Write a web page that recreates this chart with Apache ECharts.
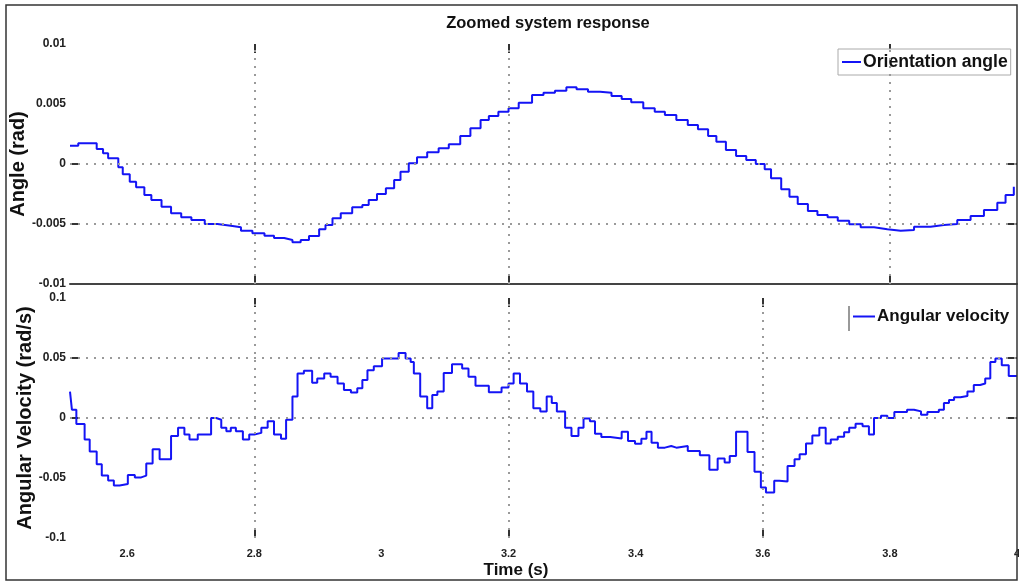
<!DOCTYPE html>
<html>
<head>
<meta charset="utf-8">
<script src="https://cdn.jsdelivr.net/npm/echarts@6/dist/echarts.min.js"></script>
<style>
  html, body { margin: 0; padding: 0; background: #ffffff; }
  #chart { width: 1019px; height: 582px; }
</style>
</head>
<body>
<div id="chart"></div>
<script>
// Orientation angle (rad) sampled over time (s)
const angleTime = [
  2.510, 2.523, 2.539, 2.552, 2.562, 2.570, 2.586, 2.593, 2.604, 2.614,
  2.627, 2.638, 2.654, 2.669, 2.685, 2.701, 2.722, 2.742, 2.763, 2.779,
  2.797, 2.816, 2.831, 2.847, 2.860, 2.873, 2.886, 2.902, 2.912, 2.923,
  2.936, 2.954, 2.970, 2.980, 2.993, 3.007, 3.020, 3.030, 3.043, 3.056,
  3.072, 3.090, 3.106, 3.124, 3.140, 3.156, 3.169, 3.184, 3.200, 3.216,
  3.237, 3.255, 3.273, 3.291, 3.307, 3.325, 3.344, 3.362, 3.378, 3.393,
  3.412, 3.430, 3.446, 3.464, 3.482, 3.498, 3.514, 3.527, 3.542, 3.558,
  3.574, 3.589, 3.603, 3.613, 3.629, 3.642, 3.655, 3.671, 3.686, 3.702,
  3.718, 3.736, 3.754, 3.775, 3.796, 3.817, 3.838, 3.864, 3.885, 3.906,
  3.927, 3.948, 3.969, 3.982, 3.995
];
const angleValues = [
  0.00153, 0.00172, 0.00172, 0.00125, 0.00090, 0.00047, -0.00028, -0.00086, -0.00147, -0.00194,
  -0.00258, -0.00300, -0.00356, -0.00411, -0.00444, -0.00467, -0.00500, -0.00514, -0.00528, -0.00556,
  -0.00578, -0.00597, -0.00617, -0.00633, -0.00653, -0.00633, -0.00600, -0.00544, -0.00508, -0.00453,
  -0.00411, -0.00361, -0.00342, -0.00300, -0.00250, -0.00203, -0.00133, -0.00064, 0.00006, 0.00056,
  0.00097, 0.00131, 0.00164, 0.00233, 0.00297, 0.00367, 0.00400, 0.00436, 0.00464, 0.00511,
  0.00575, 0.00594, 0.00611, 0.00639, 0.00622, 0.00603, 0.00594, 0.00567, 0.00542, 0.00514,
  0.00464, 0.00436, 0.00408, 0.00367, 0.00325, 0.00289, 0.00233, 0.00186, 0.00117, 0.00067,
  0.00033, 0.00000, -0.00044, -0.00119, -0.00211, -0.00272, -0.00333, -0.00392, -0.00425, -0.00444,
  -0.00472, -0.00503, -0.00528, -0.00544, -0.00556, -0.00550, -0.00522, -0.00508, -0.00500, -0.00467,
  -0.00433, -0.00383, -0.00322, -0.00258, -0.00189
];

// Angular velocity (rad/s), held constant from each time until the next
const velocityTime = [
  2.510, 2.513, 2.520, 2.533, 2.541, 2.552, 2.560, 2.570, 2.579, 2.588,
  2.601, 2.612, 2.622, 2.630, 2.640, 2.651, 2.669, 2.680, 2.690, 2.698,
  2.711, 2.732, 2.740, 2.748, 2.756, 2.763, 2.771, 2.782, 2.792, 2.800,
  2.811, 2.821, 2.831, 2.842, 2.850, 2.860, 2.868, 2.878, 2.891, 2.899,
  2.910, 2.920, 2.931, 2.941, 2.952, 2.962, 2.970, 2.978, 2.988, 3.001,
  3.027, 3.038, 3.046, 3.051, 3.061, 3.072, 3.080, 3.088, 3.098, 3.111,
  3.127, 3.137, 3.148, 3.169, 3.189, 3.200, 3.208, 3.218, 3.229, 3.239,
  3.250, 3.260, 3.268, 3.276, 3.289, 3.299, 3.310, 3.318, 3.328, 3.336,
  3.346, 3.360, 3.378, 3.388, 3.399, 3.409, 3.417, 3.425, 3.435, 3.446,
  3.456, 3.464, 3.482, 3.501, 3.516, 3.529, 3.540, 3.548, 3.558, 3.576,
  3.587, 3.597, 3.605, 3.618, 3.626, 3.639, 3.650, 3.658, 3.668, 3.678,
  3.689, 3.699, 3.707, 3.718, 3.728, 3.736, 3.746, 3.757, 3.767, 3.775,
  3.786, 3.796, 3.807, 3.827, 3.838, 3.849, 3.859, 3.877, 3.885, 3.893,
  3.901, 3.911, 3.922, 3.932, 3.942, 3.950, 3.958, 3.966, 3.976, 3.987,
  4.000
];
const velocityValues = [
  0.0220, 0.0069, -0.0049, -0.0179, -0.0280, -0.0385, -0.0480, -0.0520, -0.0563, -0.0550,
  -0.0475, -0.0495, -0.0480, -0.0379, -0.0261, -0.0343, -0.0151, -0.0082, -0.0137, -0.0179,
  -0.0137, 0.0000, -0.0014, -0.0082, -0.0110, -0.0082, -0.0110, -0.0179, -0.0137, -0.0124,
  -0.0082, -0.0027, -0.0137, -0.0173, -0.0014, 0.0179, 0.0371, 0.0393, 0.0294, 0.0330,
  0.0371, 0.0343, 0.0288, 0.0234, 0.0212, 0.0247, 0.0316, 0.0398, 0.0431, 0.0495,
  0.0541, 0.0495, 0.0467, 0.0371, 0.0179, 0.0082, 0.0192, 0.0220, 0.0376, 0.0448,
  0.0412, 0.0343, 0.0269, 0.0214, 0.0255, 0.0288, 0.0371, 0.0288, 0.0220, 0.0082,
  0.0055, 0.0179, 0.0124, 0.0055, -0.0082, -0.0151, -0.0082, -0.0005, -0.0027, -0.0132,
  -0.0159, -0.0170, -0.0115, -0.0192, -0.0214, -0.0173, -0.0115, -0.0206, -0.0247, -0.0234,
  -0.0247, -0.0234, -0.0275, -0.0310, -0.0431, -0.0338, -0.0371, -0.0316, -0.0115, -0.0283,
  -0.0448, -0.0580, -0.0620, -0.0522, -0.0530, -0.0400, -0.0343, -0.0302, -0.0212, -0.0146,
  -0.0082, -0.0212, -0.0179, -0.0157, -0.0118, -0.0082, -0.0047, -0.0069, -0.0137, 0.0000,
  0.0019, 0.0000, 0.0049, 0.0069, 0.0055, 0.0027, 0.0049, 0.0069, 0.0124, 0.0151,
  0.0173, 0.0184, 0.0220, 0.0275, 0.0288, 0.0330, 0.0467, 0.0495, 0.0440, 0.0349,
  0.0349
];

// Axis settings
const timeRange = [2.51, 4.0];
const angleRange = [-0.01, 0.01];
const velocityRange = [-0.1, 0.1];
const timeTickLabels = [2.6, 2.8, 3.0, 3.2, 3.4, 3.6, 3.8, 4.0];
const angleGridX = [2.8, 3.2, 3.8];
const angleGridY = [0, -0.005];
const velocityGridX = [2.8, 3.2, 3.6];
const velocityGridY = [0.05, 0];

const pair = (xs, ys) => xs.map((x, i) => [x, ys[i]]);

const FONT = '"Liberation Sans", Arial, sans-serif';
const LINE_BLUE = '#1414f5';
const GRID_DOT = { type: [2, 6], color: '#9a9a9a', width: 2 };
const TICK = { color: '#333', width: 2 };

function xAxisFor(gridIndex, position, ticks, extra) {
  return Object.assign({
    type: 'value', gridIndex, position,
    min: timeRange[0], max: timeRange[1],
    axisLine: { show: false, onZero: false },
    axisTick: { show: true, inside: true, length: 9, customValues: ticks, lineStyle: TICK },
    axisLabel: { show: false },
    splitLine: { show: false }
  }, extra || {});
}

function yAxisFor(gridIndex, position, range, interval, ticks, extra) {
  return Object.assign({
    type: 'value', gridIndex, position, min: range[0], max: range[1], interval,
    axisLine: { show: false, onZero: false },
    axisTick: { show: true, inside: true, length: 9, customValues: ticks, lineStyle: TICK },
    axisLabel: { show: false },
    splitLine: { show: false }
  }, extra || {});
}

const tickLabelStyle = { fontFamily: FONT, fontWeight: 'bold', color: '#222' };

// Dotted reference lines spanning the full plot area
function gridLines(xs, ys, yRange) {
  const horiz = ys.map(v => [{ coord: [timeRange[0], v] }, { coord: [timeRange[1], v] }]);
  const vert = xs.map(v => [{ coord: [v, yRange[0]] }, { coord: [v, yRange[1]] }]);
  return {
    silent: true, symbol: 'none', label: { show: false },
    lineStyle: GRID_DOT,
    emphasis: { disabled: true },
    data: horiz.concat(vert)
  };
}

function axisTitle(text, x, y, rotation, size) {
  return {
    type: 'text', silent: true, x, y, rotation,
    style: {
      text, align: 'center', verticalAlign: 'middle',
      font: 'bold ' + size + 'px ' + FONT, fill: '#111'
    }
  };
}

const chart = echarts.init(document.getElementById('chart'), null, { renderer: 'canvas' });

chart.setOption({
  animation: false,
  backgroundColor: '#ffffff',
  title: {
    text: 'Zoomed system response',
    left: 543, top: 10, textAlign: 'center',
    textStyle: { fontFamily: FONT, fontSize: 16.5, fontWeight: 'bold', color: '#111' }
  },
  legend: [
    {
      data: [{ name: 'Orientation angle', icon: 'rect' }],
      left: 838, top: 49,
      padding: [4, 3, 4, 4],
      itemWidth: 19, itemHeight: 2,
      backgroundColor: '#fff', borderColor: '#aaa', borderWidth: 1,
      textStyle: { fontFamily: FONT, fontSize: 17.6, fontWeight: 'bold', color: '#111', padding: [0, 0, 0, -3] }
    },
    {
      data: [{ name: 'Angular velocity', icon: 'rect' }],
      left: 853, top: 308,
      padding: [0, 0, 0, 0],
      itemWidth: 22, itemHeight: 2,
      textStyle: { fontFamily: FONT, fontSize: 17, fontWeight: 'bold', color: '#111', padding: [0, 0, 0, -3] }
    }
  ],
  grid: [
    { left: 70, right: 2, top: 44, height: 240, outerBoundsMode: 'none' },
    { left: 70, right: 2, top: 298, height: 240, outerBoundsMode: 'none' }
  ],
  xAxis: [
    xAxisFor(0, 'bottom', angleGridX, {
      axisLine: { show: true, onZero: false, lineStyle: { color: '#444', width: 2 } }
    }),
    xAxisFor(0, 'top', angleGridX),
    xAxisFor(1, 'bottom', velocityGridX, {
      axisLabel: {
        show: true, customValues: timeTickLabels, margin: 10, fontSize: 11,
        formatter: v => String(+v.toFixed(1)),
        ...tickLabelStyle
      }
    }),
    xAxisFor(1, 'top', velocityGridX)
  ],
  yAxis: [
    yAxisFor(0, 'left', angleRange, 0.005, angleGridY, {
      axisLabel: { show: true, margin: 4, fontSize: 12, formatter: v => String(+v.toFixed(3)), ...tickLabelStyle }
    }),
    yAxisFor(0, 'right', angleRange, 0.005, angleGridY),
    yAxisFor(1, 'left', velocityRange, 0.05, velocityGridY, {
      axisLabel: { show: true, margin: 4, fontSize: 12, formatter: v => String(+v.toFixed(2)), ...tickLabelStyle }
    }),
    yAxisFor(1, 'right', velocityRange, 0.05, velocityGridY)
  ],
  graphic: [
    {
      type: 'rect', silent: true, z: 100,
      shape: { x: 6, y: 5, width: 1011, height: 575 },
      style: { fill: 'none', stroke: '#333', lineWidth: 1.5 }
    },
    {
      type: 'line', silent: true,
      shape: { x1: 849, y1: 306, x2: 849, y2: 331 },
      style: { stroke: '#999', lineWidth: 2 }
    },
    axisTitle('Angle (rad)', 18, 164, Math.PI / 2, 20),
    axisTitle('Angular Velocity (rad/s)', 25, 418, Math.PI / 2, 20),
    axisTitle('Time (s)', 516, 570, 0, 17)
  ],
  series: [
    {
      name: 'angleGrid', type: 'line', xAxisIndex: 0, yAxisIndex: 0,
      data: [], z: 1, silent: true,
      markLine: gridLines(angleGridX, angleGridY, angleRange)
    },
    {
      name: 'velocityGrid', type: 'line', xAxisIndex: 2, yAxisIndex: 2,
      data: [], z: 1, silent: true,
      markLine: gridLines(velocityGridX, velocityGridY, velocityRange)
    },
    {
      name: 'Orientation angle', type: 'line', xAxisIndex: 0, yAxisIndex: 0,
      step: 'end', symbol: 'none', z: 3,
      lineStyle: { color: LINE_BLUE, width: 2 },
      itemStyle: { color: LINE_BLUE },
      data: pair(angleTime, angleValues)
    },
    {
      name: 'Angular velocity', type: 'line', xAxisIndex: 2, yAxisIndex: 2,
      step: 'end', symbol: 'none', z: 3,
      lineStyle: { color: LINE_BLUE, width: 2 },
      itemStyle: { color: LINE_BLUE },
      data: pair(velocityTime, velocityValues)
    }
  ]
});
</script>
</body>
</html>
